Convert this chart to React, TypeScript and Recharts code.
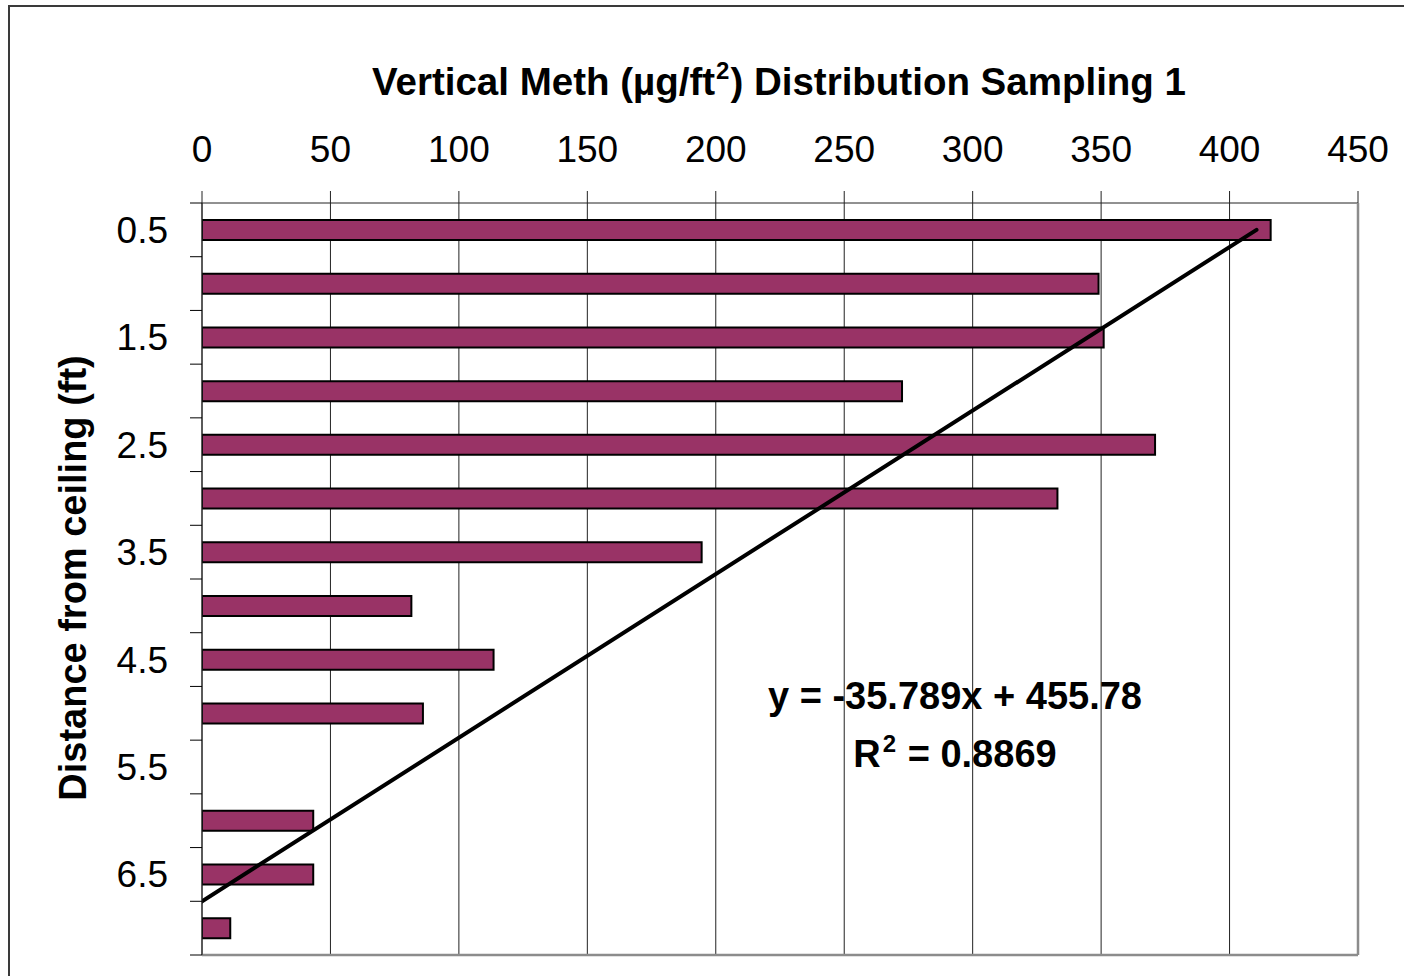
import React from 'react';
import { BarChart, Bar, XAxis, YAxis, CartesianGrid, ReferenceLine } from 'recharts';

// distance from ceiling (ft) -> category axis
const distances = ['0.5', '1', '1.5', '2', '2.5', '3', '3.5', '4', '4.5', '5', '5.5', '6', '6.5', '7'];
// meth loading (µg/ft²)
const methValues = [416, 349, 351, 272.5, 371, 333, 194.5, 81.5, 113.5, 86, 0, 43.3, 43.3, 11];
const xTicks = [0, 50, 100, 150, 200, 250, 300, 350, 400, 450];

// trendline as drawn: value at first and last category
const trendStart = 410.5;
const trendEnd = -16.4;
const equationText = 'y = -35.789x + 455.78';
const rSquaredText = ' = 0.8869';

const data = distances.map((d, i) => ({ distance: d, meth: methValues[i] }));

const W = 1404;
const H = 976;
const PLOT_LEFT = 202;
const PLOT_TOP = 203;
const PLOT_RIGHT = 1358;
const PLOT_BOTTOM = 955;
const X_AXIS_H = 80;
const FRAME_AXIS = 1;
const BAND = (PLOT_BOTTOM - PLOT_TOP) / distances.length;
const FONT = '"Liberation Sans", Arial, sans-serif';

const ValueTick = ({ x, y, payload }: any) => (
    <text x={x} y={y} textAnchor="middle" fontSize={37} fontFamily={FONT} fill="#000">
        {payload.value}
    </text>
);

// labels on every other category, tick marks between categories
const DistanceTick = ({ x, y, payload, index }: any) => (
    <g>
        {index === 0 && (
            <line x1={PLOT_LEFT - 12} x2={PLOT_LEFT} y1={y - BAND / 2} y2={y - BAND / 2} stroke="#000" />
        )}
        <line x1={PLOT_LEFT - 12} x2={PLOT_LEFT} y1={y + BAND / 2} y2={y + BAND / 2} stroke="#000" />
        {index % 2 === 0 && (
            <text x={x} y={y + 13} textAnchor="end" fontSize={37} fontFamily={FONT} fill="#000">
                {payload.value}
            </text>
        )}
    </g>
);

export default function App() {
    return (
        <div style={{ position: 'fixed', left: 0, top: 0, width: W, height: H, overflow: 'hidden', background: '#fff' }}>
            <div
                style={{
                    position: 'absolute',
                    left: 8,
                    top: 5,
                    width: 1500,
                    height: 1100,
                    border: '2px solid #3a3a3a',
                }}
            />
            <div style={{ position: 'absolute', left: 0, top: 0 }}>
                <BarChart
                    width={W}
                    height={H}
                    data={data}
                    layout="vertical"
                    margin={{
                        top: PLOT_TOP - X_AXIS_H,
                        left: 0,
                        right: W - PLOT_RIGHT - FRAME_AXIS,
                        bottom: H - PLOT_BOTTOM - FRAME_AXIS,
                    }}
                >
                    <CartesianGrid horizontal={false} stroke="#222" />
                    <XAxis
                        type="number"
                        orientation="top"
                        domain={[0, 450]}
                        ticks={xTicks}
                        allowDataOverflow
                        height={X_AXIS_H}
                        tickSize={12}
                        tickMargin={29}
                        interval={0}
                        axisLine={{ stroke: '#222' }}
                        tickLine={{ stroke: '#222' }}
                        tick={<ValueTick />}
                    />
                    <XAxis
                        xAxisId="frame"
                        type="number"
                        orientation="bottom"
                        domain={[0, 450]}
                        allowDataOverflow
                        height={FRAME_AXIS}
                        tick={false}
                        tickLine={false}
                        axisLine={{ stroke: '#8c8c8c', strokeWidth: 2.5 }}
                    />
                    <YAxis
                        type="category"
                        dataKey="distance"
                        width={PLOT_LEFT}
                        interval={0}
                        tickSize={12}
                        tickMargin={22}
                        tickLine={false}
                        axisLine={{ stroke: '#222' }}
                        tick={<DistanceTick />}
                    />
                    <YAxis
                        yAxisId="frame"
                        type="category"
                        dataKey="distance"
                        orientation="right"
                        width={FRAME_AXIS}
                        tick={false}
                        tickLine={false}
                        axisLine={{ stroke: '#8c8c8c', strokeWidth: 2.5 }}
                    />
                    <Bar
                        dataKey="meth"
                        fill="#993366"
                        stroke="#000"
                        strokeWidth={2}
                        barSize={20}
                        isAnimationActive={false}
                    />
                    <ReferenceLine
                        segment={[
                            { x: trendStart, y: distances[0] },
                            { x: trendEnd, y: distances[distances.length - 1] },
                        ]}
                        stroke="#000"
                        strokeWidth={4}
                        strokeLinecap="round"
                        ifOverflow="hidden"
                    />

                    {/* title */}
                    <text x={779} y={95} textAnchor="middle" fontSize={38.5} fontWeight="bold" fontFamily={FONT} fill="#000">
                        Vertical Meth (µg/ft
                        <tspan fontSize={24} dy={-16} dx={1}>2</tspan>
                        <tspan dy={16} dx={1}>) Distribution Sampling 1</tspan>
                    </text>

                    {/* y axis title */}
                    <text
                        transform="translate(86,578) rotate(-90)"
                        textAnchor="middle"
                        fontSize={38}
                        fontWeight="bold"
                        fontFamily={FONT}
                        fill="#000"
                    >
                        Distance from ceiling (ft)
                    </text>

                    {/* trendline equation */}
                    <text x={955} y={709} textAnchor="middle" fontSize={38} fontWeight="bold" fontFamily={FONT} fill="#000">
                        {equationText}
                    </text>
                    <text x={955} y={767} textAnchor="middle" fontSize={38} fontWeight="bold" fontFamily={FONT} fill="#000">
                        R<tspan fontSize={24} dy={-15} dx={2}>2</tspan>
                        <tspan dy={15} dx={1}>{rSquaredText}</tspan>
                    </text>
                </BarChart>
            </div>
        </div>
    );
}
